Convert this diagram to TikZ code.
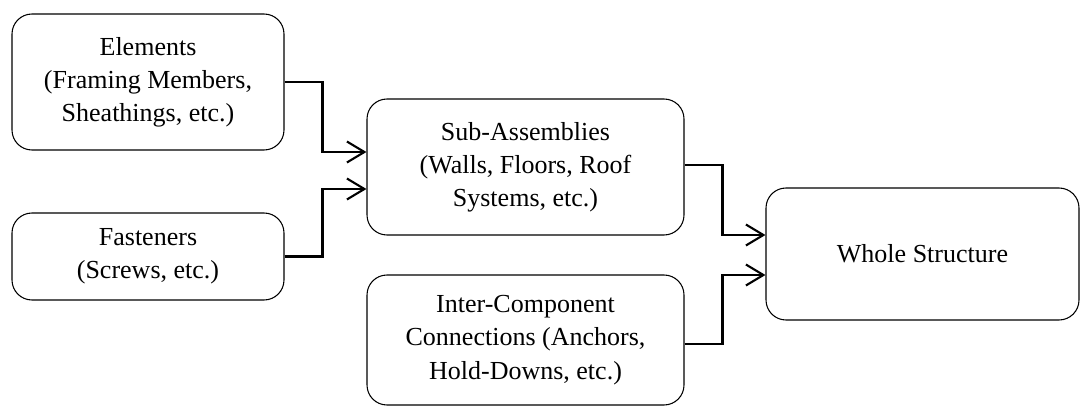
\documentclass[tikz,border=0pt]{standalone}
\usepackage{fontspec}
\setmainfont{Liberation Serif}
\usetikzlibrary{arrows.meta,positioning}

\begin{document}
\begin{tikzpicture}[font=\fontsize{14.8}{18.9}\selectfont, >={Straight Barb[length=3.5mm,width=4.2mm]},
  box/.style={draw, rounded corners=0.4cm, line width=0.6pt, align=center, inner sep=0pt},
  conn/.style={->, line width=1.2pt}]
\useasboundingbox (0,0) rectangle (21.6,8.14);
\node[box, minimum width=5.44cm, minimum height=2.72cm] (elem) at (2.96,6.50) {Elements\\(Framing Members,\\Sheathings, etc.)};
\node[box, minimum width=5.44cm, minimum height=1.74cm] (fast) at (2.96,3.01) {Fasteners\\(Screws, etc.)};
\node[box, minimum width=6.34cm, minimum height=2.72cm] (sub) at (10.51,4.80) {Sub-Assemblies\\(Walls, Floors, Roof\\Systems, etc.)};
\node[box, minimum width=6.34cm, minimum height=2.60cm] (inter) at (10.51,1.34) {Inter-Component\\Connections (Anchors,\\Hold-Downs, etc.)};
\node[box, minimum width=6.26cm, minimum height=2.64cm] (whole) at (18.45,3.06) {Whole Structure};
\draw[conn] (elem.east) -- ++(0.76,0) |- ([yshift=0.30cm]sub.west);
\draw[conn] (fast.east) -- ++(0.76,0) |- ([yshift=-0.44cm]sub.west);
\draw[conn] ([yshift=0.04cm]sub.east) -- ++(0.76,0) |- ([yshift=0.38cm]whole.west);
\draw[conn] ([yshift=-0.08cm]inter.east) -- ++(0.76,0) |- ([yshift=-0.42cm]whole.west);
\end{tikzpicture}
\end{document}
